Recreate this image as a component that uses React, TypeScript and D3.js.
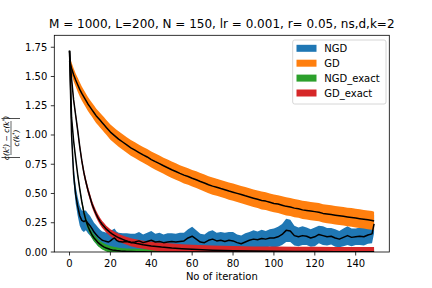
import React from 'react';
import * as d3 from 'd3';

// iterations for the noisy runs (NGD, GD)
const runIter = [
  0, 1, 2, 3, 4, 5, 6, 7, 8, 9, 10, 11, 12, 13, 14, 15, 16, 17, 18, 19, 20, 21, 22, 23, 24,
  26, 28, 30, 32, 34, 36, 38, 40, 42, 44, 46, 48, 50, 52, 54, 56, 58, 60, 62, 64,
  66, 68, 70, 72, 74, 76, 78, 80, 82, 84, 86, 88, 90, 92, 94, 96, 98, 100, 102, 104,
  106, 108, 110, 112, 114, 116, 118, 120, 122, 124, 126, 128, 130, 132, 134, 136, 138, 140, 142, 144,
  146, 148, 149,
];

const ngdMean = [
  1.72, 1.0, 0.66, 0.49, 0.39, 0.31, 0.27, 0.26, 0.27, 0.245, 0.225, 0.2, 0.17, 0.15, 0.13, 0.115, 0.1, 0.095, 0.09, 0.085, 0.095, 0.11, 0.12, 0.1, 0.09,
  0.085, 0.09, 0.08, 0.085, 0.095, 0.08, 0.09, 0.1, 0.085, 0.09, 0.08, 0.085, 0.09, 0.085, 0.09, 0.095, 0.12, 0.135, 0.11, 0.085,
  0.08, 0.1, 0.11, 0.095, 0.1, 0.09, 0.1, 0.095, 0.08, 0.07, 0.085, 0.1, 0.11, 0.105, 0.115, 0.11, 0.12, 0.12, 0.13, 0.15,
  0.185, 0.18, 0.14, 0.13, 0.14, 0.135, 0.12, 0.13, 0.15, 0.14, 0.13, 0.135, 0.12, 0.11, 0.125, 0.14, 0.125, 0.13, 0.135, 0.13,
  0.145, 0.155, 0.24,
];
const ngdSd = [
  0.02, 0.05, 0.07, 0.075, 0.08, 0.085, 0.085, 0.09, 0.085, 0.085, 0.085, 0.08, 0.08, 0.08, 0.08, 0.075, 0.075, 0.075, 0.075, 0.075, 0.075, 0.08, 0.08, 0.075, 0.075,
  0.075, 0.07, 0.075, 0.07, 0.075, 0.07, 0.075, 0.08, 0.07, 0.075, 0.07, 0.075, 0.07, 0.07, 0.075, 0.07, 0.075, 0.08, 0.075, 0.07,
  0.07, 0.075, 0.075, 0.07, 0.07, 0.075, 0.07, 0.075, 0.07, 0.07, 0.075, 0.07, 0.075, 0.07, 0.075, 0.07, 0.075, 0.08, 0.085, 0.09,
  0.1, 0.095, 0.085, 0.08, 0.08, 0.075, 0.075, 0.08, 0.075, 0.08, 0.075, 0.07, 0.075, 0.07, 0.075, 0.08, 0.075, 0.07, 0.075, 0.075,
  0.075, 0.08, 0.08,
];

const gdMean = [
  1.63, 1.57, 1.515, 1.47, 1.43, 1.39, 1.355, 1.325, 1.295, 1.265, 1.24, 1.215, 1.19, 1.165, 1.145, 1.125, 1.105, 1.085, 1.065, 1.045, 1.025, 1.01, 0.995, 0.98, 0.965,
  0.94, 0.915, 0.89, 0.87, 0.85, 0.83, 0.812, 0.79, 0.772, 0.755, 0.737, 0.72, 0.703, 0.688, 0.672, 0.657, 0.645, 0.63, 0.618, 0.603,
  0.59, 0.575, 0.563, 0.553, 0.542, 0.532, 0.521, 0.511, 0.501, 0.491, 0.48, 0.47, 0.46, 0.45, 0.44, 0.435, 0.425, 0.415, 0.41, 0.4,
  0.39, 0.385, 0.375, 0.37, 0.36, 0.355, 0.35, 0.345, 0.34, 0.33, 0.325, 0.32, 0.315, 0.31, 0.305, 0.3, 0.295, 0.29, 0.285, 0.28,
  0.275, 0.27, 0.265,
];
const gdSd = [
  0.04, 0.05, 0.055, 0.055, 0.06, 0.06, 0.06, 0.06, 0.06, 0.06, 0.06, 0.06, 0.062, 0.062, 0.062, 0.063, 0.063, 0.064, 0.064, 0.064, 0.065, 0.065, 0.065, 0.065, 0.066,
  0.066, 0.066, 0.067, 0.067, 0.067, 0.068, 0.068, 0.068, 0.069, 0.069, 0.069, 0.07, 0.07, 0.07, 0.07, 0.071, 0.071, 0.071, 0.072, 0.072,
  0.072, 0.072, 0.073, 0.073, 0.073, 0.073, 0.074, 0.074, 0.074, 0.074, 0.075, 0.075, 0.075, 0.075, 0.076, 0.076, 0.076, 0.076, 0.076, 0.077,
  0.077, 0.077, 0.077, 0.077, 0.078, 0.078, 0.078, 0.078, 0.078, 0.078, 0.079, 0.079, 0.079, 0.079, 0.079, 0.079, 0.08, 0.08, 0.08, 0.08,
  0.08, 0.08, 0.08,
];

// iterations for the exact-gradient runs
const exactIter = [
  0, 1, 2, 3, 4, 5, 6, 7, 8, 9, 10, 11, 12, 13, 14, 15, 16, 17, 18, 19, 20, 21, 22, 23, 24, 25, 26, 27, 28, 29, 30,
  33, 36, 40, 45, 50, 55, 60, 70, 80, 90, 100, 110, 120, 130, 140, 149,
];

const ngdExactMean = [
  1.72, 1.15, 0.95, 0.8, 0.66, 0.54, 0.43, 0.34, 0.27, 0.22, 0.18, 0.145, 0.12, 0.1, 0.08, 0.065, 0.052, 0.042, 0.034, 0.028, 0.022, 0.018, 0.015, 0.012, 0.01, 0.008, 0.007, 0.006, 0.005, 0.004, 0.0035,
  0.002, 0.0015, 0.001, 0.0008, 0.0006, 0.0005, 0.0005, 0.0004, 0.0004, 0.0003, 0.0003, 0.0003, 0.0002, 0.0002, 0.0002, 0.0002,
];
const ngdExactSd = [
  0.005, 0.01, 0.012, 0.015, 0.018, 0.02, 0.022, 0.025, 0.028, 0.03, 0.03, 0.03, 0.03, 0.03, 0.03, 0.03, 0.03, 0.03, 0.03, 0.03, 0.03, 0.03, 0.028, 0.028, 0.027, 0.027, 0.026, 0.026, 0.025, 0.025, 0.025,
  0.025, 0.024, 0.024, 0.023, 0.023, 0.022, 0.022, 0.022, 0.022, 0.022, 0.022, 0.022, 0.022, 0.022, 0.022, 0.022,
];

const gdExactMean = [
  1.72, 1.48, 1.3, 1.17, 1.04, 0.9, 0.78, 0.68, 0.6, 0.53, 0.47, 0.41, 0.365, 0.325, 0.29, 0.26, 0.235, 0.215, 0.195, 0.18, 0.165, 0.153, 0.142, 0.132, 0.123, 0.115, 0.108, 0.101, 0.095, 0.089, 0.084,
  0.072, 0.062, 0.052, 0.042, 0.034, 0.028, 0.023, 0.016, 0.011, 0.008, 0.006, 0.005, 0.004, 0.003, 0.003, 0.002,
];
const gdExactSd = [
  0.005, 0.015, 0.02, 0.025, 0.028, 0.03, 0.03, 0.03, 0.03, 0.03, 0.03, 0.03, 0.03, 0.03, 0.03, 0.03, 0.03, 0.03, 0.03, 0.03, 0.03, 0.031, 0.031, 0.032, 0.032, 0.032, 0.033, 0.033, 0.033, 0.034, 0.034,
  0.035, 0.035, 0.036, 0.037, 0.038, 0.038, 0.039, 0.04, 0.04, 0.04, 0.04, 0.04, 0.04, 0.04, 0.04, 0.04,
];

const legendLabels = ['NGD', 'GD', 'NGD_exact', 'GD_exact'];
const xTicks = [0, 20, 40, 60, 80, 100, 120, 140];
const yTicks = [0, 0.25, 0.5, 0.75, 1.0, 1.25, 1.5, 1.75];

const W = 432;
const H = 288;
const plot = { left: 54.3, right: 389.3, top: 35.3, bottom: 252 };
const colors = ['#1f77b4', '#ff7f0e', '#2ca02c', '#d62728'];
const font = 'DejaVu Sans, sans-serif';

type Pt = { i: number; m: number; s: number };
const zip = (it: number[], m: number[], s: number[]): Pt[] => it.map((i, k) => ({ i, m: m[k], s: s[k] }));

const App: React.FC = () => {
  const x = d3.scaleLinear().domain([-7.45, 156.45]).range([plot.left, plot.right]);
  const y = d3.scaleLinear().domain([0, 1.852]).range([plot.bottom, plot.top]);

  const series = [
    zip(runIter, ngdMean, ngdSd),
    zip(runIter, gdMean, gdSd),
    zip(exactIter, ngdExactMean, ngdExactSd),
    zip(exactIter, gdExactMean, gdExactSd),
  ];

  const area = d3.area<Pt>().x(d => x(d.i)).y0(d => y(d.m - d.s)).y1(d => y(d.m + d.s));
  const line = d3.line<Pt>().x(d => x(d.i)).y(d => y(d.m));

  const legend = { x: 292.7, y: 40, w: 93.3, h: 64 };

  return (
    <svg width={W} height={H} style={{ position: 'fixed', left: 0, top: 0, background: '#fff' }} fontFamily={font}>
      <defs>
        <clipPath id="plotclip">
          <rect x={plot.left} y={plot.top} width={plot.right - plot.left} height={plot.bottom - plot.top} />
        </clipPath>
      </defs>
      <rect x={0} y={0} width={W} height={H} fill="#fff" />

      <g clipPath="url(#plotclip)">
        {series.map((s, k) => (
          <path key={'a' + k} d={area(s) || ''} fill={colors[k]} stroke="none" />
        ))}
        {series.map((s, k) => (
          <path key={'l' + k} d={line(s) || ''} fill="none" stroke="#000" strokeWidth={1.5} strokeLinejoin="round" />
        ))}
      </g>

      {/* spines */}
      <rect x={plot.left} y={plot.top} width={plot.right - plot.left} height={plot.bottom - plot.top}
        fill="none" stroke="#000" strokeWidth={0.8} />

      {/* x axis */}
      {xTicks.map(t => (
        <g key={'x' + t} transform={`translate(${x(t)},${plot.bottom})`}>
          <line y2={3.5} stroke="#000" strokeWidth={0.8} />
          <text y={14.6} textAnchor="middle" fontSize={10} fill="#000">{t}</text>
        </g>
      ))}
      <text x={(plot.left + plot.right) / 2} y={280} textAnchor="middle" fontSize={10}>No of iteration</text>

      {/* y axis */}
      {yTicks.map(t => (
        <g key={'y' + t} transform={`translate(${plot.left},${y(t)})`}>
          <line x2={-3.5} stroke="#000" strokeWidth={0.8} />
          <text x={-7} dy="0.35em" textAnchor="end" fontSize={10} fill="#000">{t.toFixed(2)}</text>
        </g>
      ))}

      {/* y label: |(c(k^t) - c(k^*)) / c(k^*)| */}
      <g transform="translate(11,138) rotate(-90)" fontStyle="italic" fontSize={7.5}>
        <line x1={-19.5} x2={-19.5} y1={-9.5} y2={9} stroke="#000" strokeWidth={0.7} />
        <line x1={19.5} x2={19.5} y1={-9.5} y2={9} stroke="#000" strokeWidth={0.7} />
        <line x1={-17} x2={17} y1={0} y2={0} stroke="#000" strokeWidth={0.6} />
        <text x={0} y={-2.2} textAnchor="middle">
          c(k<tspan fontSize={5} dy={-3}>t</tspan><tspan dy={3}>)</tspan>
          <tspan fontStyle="normal"> − </tspan>c(k<tspan fontSize={5} dy={-3}>*</tspan><tspan dy={3}>)</tspan>
        </text>
        <text x={0} y={7.8} textAnchor="middle">
          c(k<tspan fontSize={5} dy={-3}>*</tspan><tspan dy={3}>)</tspan>
        </text>
      </g>

      {/* title */}
      <text x={(plot.left + plot.right) / 2} y={28} textAnchor="middle" fontSize={12}>
        M = 1000, L=200, N = 150, lr = 0.001, r= 0.05, ns,d,k=2
      </text>

      {/* legend */}
      <rect x={legend.x} y={legend.y} width={legend.w} height={legend.h} rx={2}
        fill="#fff" fillOpacity={0.8} stroke="#cccccc" strokeWidth={0.8} />
      {legendLabels.map((lab, k) => {
        const cy = 48.3 + k * 14.9;
        return (
          <g key={lab}>
            <rect x={296.5} y={cy - 3.5} width={20} height={7} fill={colors[k]} />
            <text x={324.3} y={cy + 3.6} fontSize={10}>{lab}</text>
          </g>
        );
      })}
    </svg>
  );
};

export default App;
